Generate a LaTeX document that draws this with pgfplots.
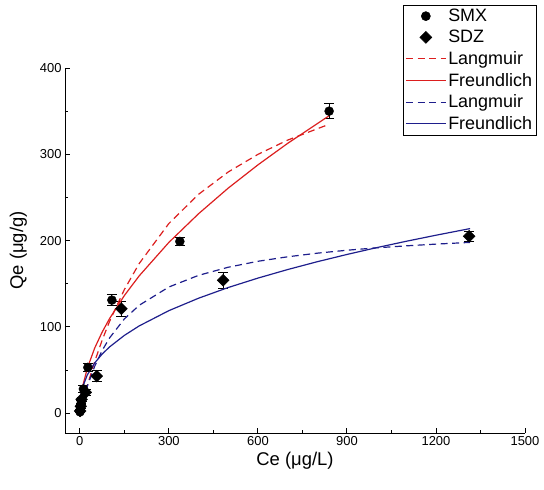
\documentclass[border=0pt]{standalone}
\usepackage{fontspec}
\setmainfont{Liberation Sans}
\usepackage{pgfplots}
\pgfplotsset{compat=1.18}

\definecolor{smxred}{RGB}{220,30,30}
\definecolor{sdzblue}{RGB}{30,30,140}

\begin{document}
\begin{tikzpicture}
\begin{axis}[
  name=main,
  scale only axis,
  width=460bp, height=365bp,
  xmin=-50, xmax=1500,
  ymin=-23, ymax=400,
  axis x line*=bottom,
  axis y line*=left,
  axis line style={line width=0.9pt},
  tick align=inside,
  xtick={0,300,...,1500},
  ytick={0,100,...,400},
  minor x tick num=1,
  minor y tick num=1,
  major tick length=5bp,
  minor tick length=3bp,
  every tick/.style={line width=0.9pt, black},
  /pgf/number format/assume math mode=true,
  /pgf/number format/1000 sep={},
  tick label style={font=\fontsize{13}{15}\selectfont},
  xlabel={Ce (μg/L)},
  ylabel={Qe (μg/g)},
  label style={font=\fontsize{18.5}{21}\selectfont},
  ylabel shift=6bp,
  legend cell align=left,
  legend style={
    at={(0.735,1.173)}, anchor=north west,
    draw=black, line width=0.6pt,
    font=\fontsize{18}{21.5}\selectfont,
    row sep=3.2bp, inner sep=2bp,
  },
  legend image code/.code={%
    \draw[mark repeat=2,mark phase=2,#1]
      plot coordinates {(0cm,0cm) (0.7cm,0cm) (1.4cm,0cm)};},
  clip=false,
]

% Measured adsorption data
\addplot[only marks, mark=*, mark size=4.5bp, black,
  error bars/.cd, y dir=both, y explicit,
  error mark options={rotate=90, mark size=5bp, line width=0.9pt, black},
  error bar style={line width=0.9pt, black}]
  coordinates {
  (0.5,1.5) +- (0,1)
  (2,6) +- (0,2)
  (5,13) +- (0,2)
  (12,28) +- (0,4)
  (27,53) +- (0,5)
  (108,131) +- (0,6)
  (337,199) +- (0,5)
  (840,350) +- (0,9)
  };
\addlegendentry{SMX}

\addplot[only marks, mark=square*, mark size=4.2bp, mark options={rotate=45}, black,
  error bars/.cd, y dir=both, y explicit,
  error mark options={rotate=90, mark size=5bp, line width=0.9pt, black},
  error bar style={line width=0.9pt, black}]
  coordinates {
  (1,2.5) +- (0,1)
  (3,8) +- (0,2)
  (6,16) +- (0,2)
  (20,24) +- (0,4)
  (57,43) +- (0,6)
  (140,121) +- (0,9)
  (483,154) +- (0,9)
  (1312,205) +- (0,6)
  };
\addlegendentry{SDZ}

% SMX isotherm fits
\addplot[smxred, line width=1.2pt, dash pattern=on 7bp off 4.5bp] coordinates {
  (0,0) (2,2.7) (5,6.8) (10,13.3) (25,31.9) (50,59.8) (75,84.4) (100,106.2)
  (150,143.2) (200,173.4) (300,219.8) (400,253.6) (500,279.5)
  (600,299.9) (700,316.4) (840,334.8)};
\addlegendentry{Langmuir}

\addplot[smxred, line width=1.2pt] coordinates {
  (0,0) (0.2,3.8) (1,9.2) (2,13.3) (5,21.8) (10,31.6) (25,51.9) (50,75.4)
  (75,93.8) (100,109.5) (150,136.3) (200,159.1) (300,197.9) (400,231.1)
  (500,260.8) (600,287.7) (700,312.6) (840,344.7)};
\addlegendentry{Freundlich}

% SDZ isotherm fits
\addplot[sdzblue, line width=1.2pt, dash pattern=on 7bp off 4.5bp] coordinates {
  (0,0) (2,2.8) (5,7.0) (10,13.5) (25,30.9) (50,54.3) (75,72.5) (100,87.1)
  (150,109.2) (200,125.0) (300,146.2) (400,159.7) (500,169.1)
  (600,176.0) (700,181.2) (800,185.4) (900,188.8) (1000,191.6)
  (1100,193.9) (1200,195.9) (1315,197.9)};
\addlegendentry{Langmuir}

\addplot[sdzblue, line width=1.2pt] coordinates {
  (0,0) (0.2,6.3) (1,12.3) (2,16.2) (5,23.3) (10,30.7) (25,44.2) (50,58.2)
  (75,68.4) (100,76.7) (150,90.1) (200,101.1) (300,118.8) (400,133.2)
  (500,145.6) (600,156.5) (700,166.4) (800,175.5) (900,183.9)
  (1000,191.8) (1100,199.2) (1200,206.2) (1315,213.9)};
\addlegendentry{Freundlich}

\end{axis}
\pgfresetboundingbox
\path[use as bounding box] ([shift={(-65bp,-57bp)}]main.south west)
  rectangle ([shift={(479bp,433bp)}]main.south west);
\end{tikzpicture}
\end{document}
